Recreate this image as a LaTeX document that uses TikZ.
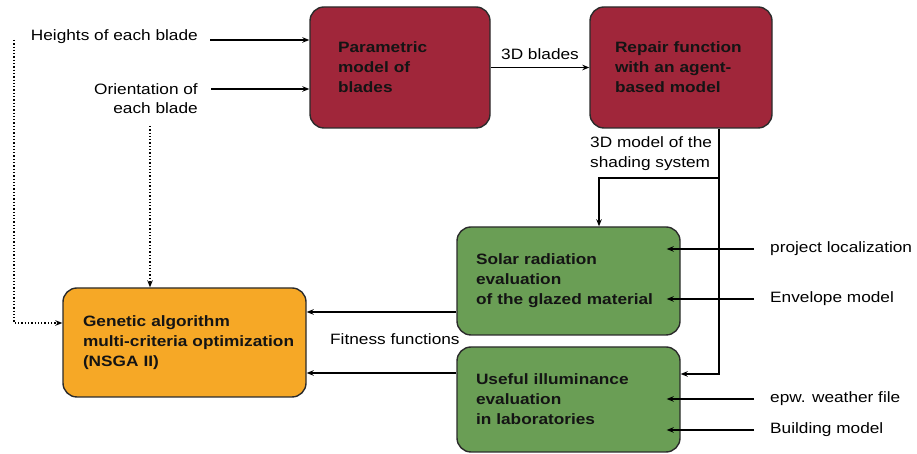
\documentclass[tikz,border=0pt]{standalone}
\usepackage{fontspec}
\setmainfont{Liberation Sans}[FakeStretch=1.15]
\usepackage{xcolor}
\usetikzlibrary{arrows.meta}
\definecolor{bladered}{HTML}{A0263A}
\definecolor{evalgreen}{HTML}{6A9E55}
\definecolor{gaorange}{HTML}{F6A826}
\definecolor{boxedge}{HTML}{2B2B2B}

\begin{document}
\begin{tikzpicture}[x=1pt,y=1pt,
    every node/.style={font=\fontsize{15}{19.5}\selectfont, inner sep=2pt},
    block/.style={draw=boxedge, line width=1.4pt, rounded corners=14pt, align=left,
        font=\fontsize{15}{20}\selectfont\bfseries, text=black!92, inner ysep=0pt},
    flow/.style={line width=1.2pt, -{Stealth[length=7pt,width=5.5pt]}},
    hint/.style={line width=1.3pt, dotted, -{Stealth[length=7pt,width=5.5pt]}}]
    \useasboundingbox (0,0) rectangle (917,454);
    % blocks
    \node[block, fill=bladered, text width=124pt, inner xsep=28pt, minimum height=121pt] (param) at (400,386.5)
        {Parametric\\model of\\blades};
    \node[block, fill=bladered, text width=132pt, inner xsep=25pt, minimum height=121pt] (repair) at (681,386.5)
        {\mbox{Repair function}\\with an agent-\\based model};
    \node[block, fill=evalgreen, text width=185pt, inner xsep=19pt, minimum height=108pt] (solar) at (568.5,173)
        {Solar radiation\\evaluation\\of the glazed material};
    \node[block, fill=evalgreen, text width=185pt, inner xsep=19pt, minimum height=105pt] (useful) at (568.5,54.5)
        {Useful illuminance\\evaluation\\in laboratories};
    \node[block, fill=gaorange, text width=203pt, inner xsep=20pt, minimum height=109pt] (genetic) at (184.5,111.5)
        {Genetic algorithm\\\mbox{multi-criteria optimization}\\(NSGA II)};
    % labels
    \node[anchor=east] (heights) at (200,417) {Heights of each blade};
    \node[anchor=east, align=right] (orient) at (200,355.5) {Orientation of\\each blade};
    \node[anchor=west, align=left] (shading) at (588,300.5) {3D model of the\\shading system};
    \node[anchor=west] (fitness) at (328,115) {Fitness functions};
    \node[anchor=west] (localization) at (768,205) {project localization};
    \node[anchor=west] (envelope) at (768,155) {Envelope model};
    \node[anchor=west] (weather) at (768,55) {epw. weather file};
    \node[anchor=west] (building) at (768,24) {Building model};
    \coordinate (hstart) at (210,414);
    \coordinate (ostart) at (211,365);
    \coordinate (dleft) at (14,414);
    \coordinate (dmid) at (150,328);
    \coordinate (split) at (719,276);
    % connectors
    \draw[flow] (hstart) -- (hstart -| param.west);
    \draw[flow] (ostart) -- (ostart -| param.west);
    \draw[flow] (param.east) -- node[above=5pt] (blades) {3D blades} (repair.east -| repair.west);
    \draw[line width=1.2pt] (split |- repair.south) -- (split);
    \draw[flow] (split) -| ([xshift=30.5pt]solar.north);
    \draw[flow] (split) |- ([yshift=25.5pt]useful.east);
    \draw[flow] ([yshift=-31pt]solar.west) -- ([yshift=-31pt]solar.west -| genetic.east);
    \draw[flow] ([yshift=26.5pt]useful.west) -- ([yshift=26.5pt]useful.west -| genetic.east);
    \draw[flow] ([xshift=-14pt]localization.west) -- ([xshift=-14pt]localization.west -| solar.east);
    \draw[flow] ([xshift=-14pt]envelope.west) -- ([xshift=-14pt]envelope.west -| solar.east);
    \draw[flow] ([xshift=-14pt]weather.west) -- ([xshift=-14pt]weather.west -| useful.east);
    \draw[flow] ([xshift=-14pt]building.west) -- ([xshift=-14pt]building.west -| useful.east);
    \draw[hint] (dleft) |- ([yshift=19.5pt]genetic.west);
    \draw[hint] (dmid) -- (dmid |- genetic.north);
\end{tikzpicture}
\end{document}
